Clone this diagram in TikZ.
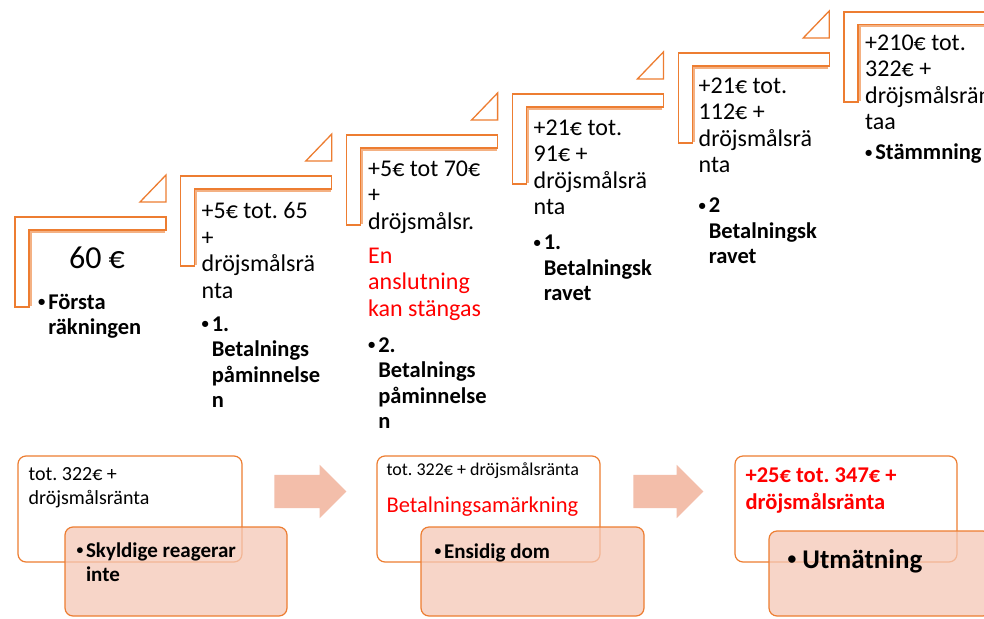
\documentclass[tikz,border=0pt]{standalone}
\usepackage{fontspec}
\setmainfont{Carlito}
\usepackage{graphicx}
\usepackage{tikz}
\usetikzlibrary{positioning,shapes.arrows}
\frenchspacing

\definecolor{stepOrange}{HTML}{ED7D31}
\definecolor{stepPale}{HTML}{F4B183}
\definecolor{arrowPink}{RGB}{243,190,170}
\definecolor{boxPink}{RGB}{245,200,182}
\definecolor{alertRed}{HTML}{FF0000}

% small bullet, lines hang after it
\newcommand{\dotmark}{\raisebox{0.12em}{\scalebox{0.65}{•}}}
\newcommand{\stepbullet}[1]{\makebox[0.45em][l]{\dotmark}\begin{tabular}[t]{@{}l@{}}#1\end{tabular}}

\begin{document}
\begin{tikzpicture}[
    x=1pt, y=-1pt,
    stepEdge/.style={draw=stepOrange, line width=1.3pt, fill=white},
    stepInner/.style={draw=stepPale, line width=2pt},
    stepText/.style={anchor=north west, inner sep=0pt, align=left, font=\fontsize{24}{26.5}\selectfont,
        execute at begin node=\strut, execute at end node=\strut},
    redText/.style={stepText, text=alertRed},
    bulletText/.style={anchor=north west, inner sep=0pt, font=\bfseries\fontsize{22.5}{25.5}\selectfont},
    boxText/.style={inner sep=0pt, align=left, font=\fontsize{20}{24}\selectfont,
        execute at begin node=\strut, execute at end node=\strut},
    whiteBox/.style={draw=stepOrange, fill=white, line width=1.2pt, rounded corners=8pt,
        minimum width=224pt, minimum height=106pt, inner sep=0pt},
    pinkBox/.style={draw=stepOrange, fill=boxPink, fill opacity=0.75, line width=1.2pt, rounded corners=8pt,
        minimum width=222pt, minimum height=89pt, inner sep=0pt},
    blockArrow/.style={single arrow, fill=arrowPink, minimum height=72pt, inner xsep=0pt, inner ysep=16.5pt,
        single arrow head extend=10pt}
]
\useasboundingbox (0,0) rectangle (984,618);
\clip (0,0) rectangle (984,618);
\fill[white] (0,0) rectangle (984,618);

% stair steps
\foreach \i in {0,...,5}{
  \pgfmathsetmacro{\sx}{15+165.8*\i}
  \pgfmathsetmacro{\sy}{217-41*\i}
  \begin{scope}[shift={(\sx,\sy)}]
    \filldraw[stepEdge] (0,90) -- (0,0) -- (151,0) -- (151,13) -- (14,13) -- (14,90) -- cycle;
    \draw[stepInner] (150,14.5) -- (15.5,14.5) -- (15.5,89);
    \filldraw[stepEdge] (125,-15) -- (151,-15) -- (151,-42) -- cycle;
  \end{scope}
}

% step texts
\node[font=\fontsize{32}{36}\selectfont, inner sep=0pt] (n1) at (97,258) {60 €};
\node[bulletText] (b1) at (38,291.4) {\stepbullet{Första\\räkningen}};

\node[stepText] (t2) at (201.5,202.25) {+5€ tot. 65\\+\\dröjsmålsrä\\nta};
\node[bulletText, below=7pt of t2.south west, anchor=north west] (b2) {\stepbullet{1.\\Betalnings\\påminnelse\\n}};

\node[stepText] (t3) at (368,160.25) {+5€ tot 70€\\+\\dröjsmålsr.};
\node[redText, below=10.5pt of t3.south west, anchor=north west] (r3) {En\\anslutning\\kan stängas};
\node[bulletText, below=9.6pt of r3.south west, anchor=north west] (b3) {\stepbullet{2.\\Betalnings\\påminnelse\\n}};

\node[stepText] (t4) at (533.5,119.25) {+21€ tot.\\91€ +\\dröjsmålsrä\\nta};
\node[bulletText, below=9pt of t4.south west, anchor=north west] (b4) {\stepbullet{1.\\Betalningsk\\ravet}};

\node[stepText] (t5) at (698.5,77.25) {+21€ tot.\\112€ +\\dröjsmålsrä\\nta};
\node[bulletText, below=14pt of t5.south west, anchor=north west] (b5) {\stepbullet{2\\Betalningsk\\ravet}};

\node[stepText] (t6) at (865,34.25) {+210€ tot.\\322€ +\\dröjsmålsrän\\taa};
\node[bulletText, below=4pt of t6.south west, anchor=north west] (b6) {\stepbullet{Stämmning}};

% bottom process
\node[whiteBox] (w1) at (130,509) {};
\node[boxText, below right=11.6pt and 11pt of w1.north west] (w1t) {tot. 322€ +\\dröjsmålsränta};
\node[pinkBox] (p1) at (176,571.5) {};
\node[bulletText, font=\bfseries\fontsize{21}{24}\selectfont, below right=13.9pt and 12pt of p1.north west] (p1t) {\stepbullet{Skyldige reagerar\\inte}};

\node[blockArrow] (a1) at (302,491.5) {};

\node[whiteBox, minimum width=223pt] (w2) at (488.5,509) {};
\node[boxText, font=\fontsize{18}{21.6}\selectfont, below right=4.7pt and 10pt of w2.north west] (w2t) {tot. 322€ + dröjsmålsränta};
\node[boxText, text=alertRed, font=\fontsize{22.5}{26}\selectfont, below=11.7pt of w2t.south west, anchor=north west] (w2r) {Betalningsamärkning};
\node[pinkBox, minimum width=223pt] (p2) at (532.5,571.5) {};
\node[bulletText, font=\bfseries\fontsize{21}{24}\selectfont, below right=14.9pt and 14pt of p2.north west] (p2t) {\stepbullet{Ensidig dom}};

\node[blockArrow, minimum height=70pt] (a2) at (660,491.5) {};

\node[whiteBox, minimum width=222pt] (w3) at (846,509) {};
\node[boxText, text=alertRed, font=\bfseries\fontsize{22.5}{27}\selectfont, below right=12.3pt and 11pt of w3.north west] (w3t) {+25€ tot. 347€ +\\dröjsmålsränta};
\node[pinkBox, minimum height=85pt] (p3) at (880,573.5) {};
\node[bulletText, font=\bfseries\fontsize{27}{30}\selectfont, below right=18.6pt and 19pt of p3.north west] (p3t) {\dotmark\ Utmätning};
\end{tikzpicture}
\end{document}
